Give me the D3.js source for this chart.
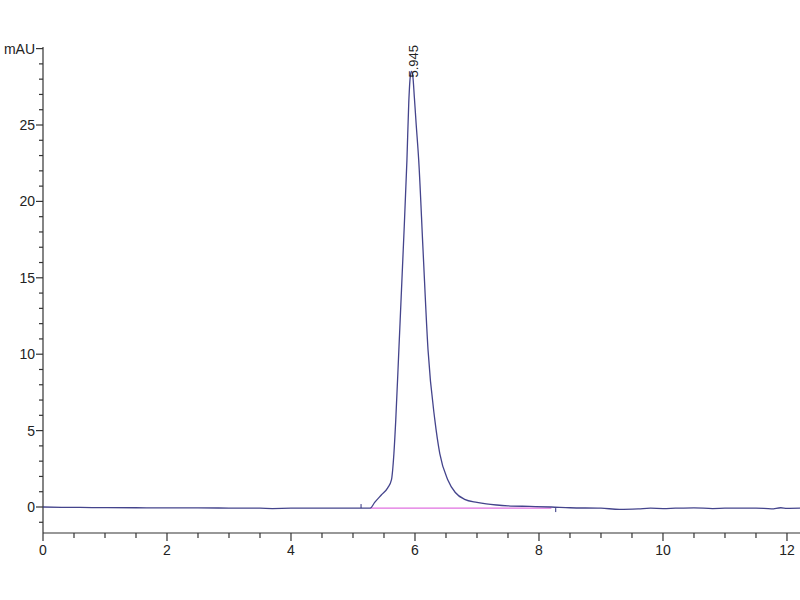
<!DOCTYPE html>
<html><head><meta charset="utf-8">
<script src="https://cdn.jsdelivr.net/npm/d3@7"></script>
<style>body{margin:0;background:#fff}svg{display:block}text{font-family:"Liberation Sans",Arial,sans-serif}</style>
</head><body><svg id="c" width="800" height="600"></svg>
<script>
// Retention time (min)
const times = [0, 0.3, 0.6, 1.0, 1.5, 2.0, 2.5, 3.0, 3.5, 3.7, 4.0, 4.5, 5.0, 5.2, 5.28, 5.35, 5.46, 5.56, 5.62, 5.66, 5.69, 5.74, 5.81, 5.87, 5.9, 5.925, 5.945, 5.965, 5.99, 6.02, 6.06, 6.13, 6.21, 6.32, 6.40, 6.53, 6.65, 6.8, 7.0, 7.15, 7.32, 7.5, 7.85, 8.2, 8.5, 9.0, 9.3, 9.6, 9.8, 10.0, 10.2, 10.5, 10.8, 11.0, 11.5, 11.75, 11.9, 12.0, 12.21];
// Absorbance (mAU)
const values = [0.0, -0.02, -0.03, -0.04, -0.05, -0.06, -0.06, -0.07, -0.08, -0.1, -0.08, -0.08, -0.08, -0.08, -0.07, 0.3, 0.8, 1.25, 1.77, 3.5, 5.7, 10.3, 16.8, 22.7, 26.5, 28.2, 28.5, 28.2, 26.8, 25.0, 22.7, 16.8, 10.3, 5.7, 3.5, 1.77, 0.95, 0.5, 0.3, 0.2, 0.13, 0.08, 0.04, 0.0, -0.05, -0.08, -0.15, -0.12, -0.08, -0.1, -0.08, -0.06, -0.1, -0.08, -0.07, -0.12, -0.05, -0.09, -0.08];
// Integration baseline
const baseTimes = [5.28, 8.2];
const baseValues = [-0.07, -0.07];
// Integration event markers
const markerTimes = [5.13, 8.27];
const markerDirs = [1, -1];
// Peak label
const peakTimes = [5.945];
const peakLabels = ["5.945"];
const peakHeights = [28.5];
// Axis ticks
const xMajor = [0, 2, 4, 6, 8, 10, 12];
const xMinor = [0.5, 1, 1.5, 2.5, 3, 3.5, 4.5, 5, 5.5, 6.5, 7, 7.5, 8.5, 9, 9.5, 10.5, 11, 11.5];
const yMajor = [0, 5, 10, 15, 20, 25, 30];
const yMajorLabels = ["0", "5", "10", "15", "20", "25", "mAU"];
const yMinor = [-1, 1, 2, 3, 4, 6, 7, 8, 9, 11, 12, 13, 14, 16, 17, 18, 19, 21, 22, 23, 24, 26, 27, 28, 29];

const svg = d3.select("#c");
const x = d3.scaleLinear().domain([0, 12.21]).range([43, 800]);
const y = d3.scaleLinear().domain([0, 25]).range([507, 125]);
const axisCol = "#333";

// axes lines
svg.append("line").attr("x1", x(0)).attr("x2", 800).attr("y1", 533).attr("y2", 533).attr("stroke", axisCol).attr("stroke-width", 1.2);
svg.append("line").attr("x1", x(0)).attr("x2", x(0)).attr("y1", 47).attr("y2", 533).attr("stroke", axisCol).attr("stroke-width", 1.2);

// x ticks
svg.selectAll(".xM").data(xMajor).enter().append("line")
  .attr("x1", d => x(d)).attr("x2", d => x(d)).attr("y1", 533).attr("y2", 541).attr("stroke", axisCol).attr("stroke-width", 1.2);
svg.selectAll(".xm").data(xMinor).enter().append("line")
  .attr("x1", d => x(d)).attr("x2", d => x(d)).attr("y1", 533).attr("y2", 538).attr("stroke", axisCol).attr("stroke-width", 1.2);
svg.selectAll(".xl").data(xMajor).enter().append("text")
  .attr("x", d => x(d)).attr("y", 555).attr("text-anchor", "middle").attr("font-size", 14).attr("fill", "#222").text(d => d);

// y ticks
svg.selectAll(".yM").data(yMajor).enter().append("line")
  .attr("x1", x(0) - 7).attr("x2", x(0)).attr("y1", d => y(d)).attr("y2", d => y(d)).attr("stroke", axisCol).attr("stroke-width", 1.2);
svg.selectAll(".ym").data(yMinor).enter().append("line")
  .attr("x1", x(0) - 4).attr("x2", x(0)).attr("y1", d => y(d)).attr("y2", d => y(d)).attr("stroke", axisCol).attr("stroke-width", 1.2);
svg.selectAll(".yl").data(yMajor).enter().append("text")
  .attr("x", x(0) - 8).attr("y", d => y(d) + 5).attr("text-anchor", "end").attr("font-size", 14).attr("fill", "#222")
  .text((d, i) => yMajorLabels[i]);

// integration baseline
const base = d3.line().x(d => x(d[0])).y(d => y(d[1]));
svg.append("path").attr("d", base(baseTimes.map((t, i) => [t, baseValues[i]])))
  .attr("fill", "none").attr("stroke", "#e070e0").attr("stroke-width", 1.3);

// trace
const line = d3.line().x(d => x(d[0])).y(d => y(d[1])).curve(d3.curveMonotoneX);
svg.append("path").attr("d", line(times.map((t, i) => [t, values[i]])))
  .attr("fill", "none").attr("stroke", "#30307f").attr("stroke-width", 1.3).attr("stroke-opacity", 0.9);

// markers
svg.selectAll(".mk").data(markerTimes).enter().append("line")
  .attr("x1", d => x(d)).attr("x2", d => x(d))
  .attr("y1", y(-0.07)).attr("y2", (d, i) => y(-0.07) - 4 * markerDirs[i])
  .attr("stroke", "#30307f").attr("stroke-width", 1);

// peak label
svg.selectAll(".pl").data(peakTimes).enter().append("text")
  .attr("transform", (d, i) => `translate(${x(d) + 6},${y(peakHeights[i]) + 6}) rotate(-90)`)
  .attr("font-size", 13).attr("fill", "#222").text((d, i) => peakLabels[i]);
</script></body></html>
